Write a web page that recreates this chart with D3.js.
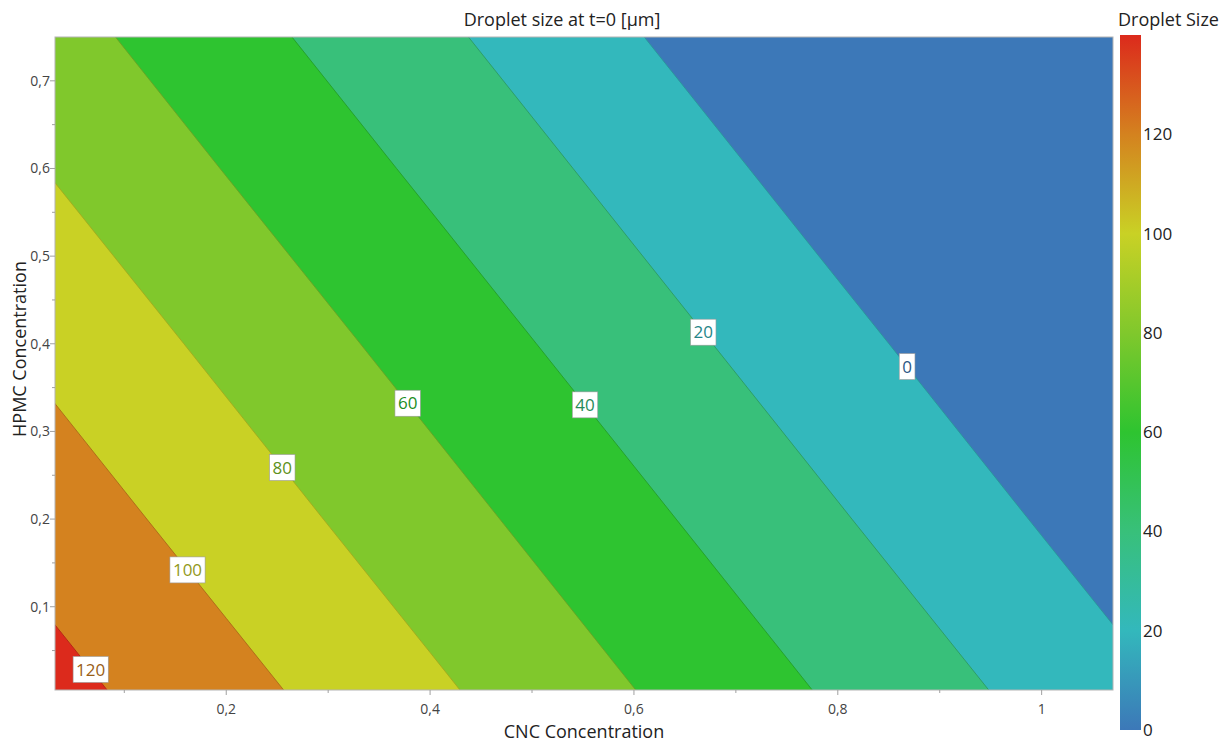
<!DOCTYPE html>
<html>
<head>
<meta charset="utf-8">
<script src="https://cdn.jsdelivr.net/npm/d3@7"></script>
<style>
body { margin: 0; background: #fff; }
text { font-family: 'Open Sans', 'Noto Sans', sans-serif; }
</style>
</head>
<body>
<div id="chart"></div>
<script>
//grid the surface was read on (CNC along x, HPMC along y)
var cncGrid = [0, 0.2, 0.4, 0.6, 0.8, 1.0, 1.2];
var hpmcGrid = [0, 0.2, 0.4, 0.6, 0.8];

//droplet size (µm) at each grid point, one row per HPMC value
var sizeAtHpmc00 = [130.0, 106.9, 83.8, 60.6, 37.5, 14.4, -8.7];
var sizeAtHpmc02 = [114.1, 91.0, 67.9, 44.8, 21.6, -1.5, -24.6];
var sizeAtHpmc04 = [98.3, 75.2, 52.1, 28.9, 5.8, -17.3, -40.4];
var sizeAtHpmc06 = [82.4, 59.3, 36.2, 13.1, -10.1, -33.2, -56.3];
var sizeAtHpmc08 = [66.6, 43.5, 20.4, -2.8, -25.9, -49.0, -72.1];

//contour levels and where along CNC each level label sits
var levels = [0, 20, 40, 60, 80, 100, 120];
var labelCnc = [0.868, 0.668, 0.552, 0.378, 0.255, 0.162, 0.067];

//colour bar
var colorStops = [0, 20, 40, 60, 80, 100, 120, 140];
var colorValues = ['#3c78b8', '#33b8bc', '#38c07a', '#2ec430', '#80c82c', '#c9d125', '#d4821f', '#dc2a1c'];
var barTicks = [0, 20, 40, 60, 80, 100, 120];

//axis ticks
var xTicks = [0.2, 0.4, 0.6, 0.8, 1];
var xMinor = [0.1, 0.3, 0.5, 0.7, 0.9];
var yTicks = [0.1, 0.2, 0.3, 0.4, 0.5, 0.6, 0.7];
var yMinor = [0.05, 0.15, 0.25, 0.35, 0.45, 0.55, 0.65];

var width = 1231, height = 742;
var plotLeft = 55, plotRight = 1113, plotTop = 37, plotBottom = 690;

var svg = d3.select('#chart').append('svg')
    .attr('width', width)
    .attr('height', height);

var x = d3.scaleLinear().domain([0.032, 1.07]).range([plotLeft, plotRight]);
var y = d3.scaleLinear().domain([0.005, 0.75]).range([plotBottom, plotTop]);

var color = d3.scaleLinear().domain(colorStops).range(colorValues);

var rows = [sizeAtHpmc00, sizeAtHpmc02, sizeAtHpmc04, sizeAtHpmc06, sizeAtHpmc08];
var nx = cncGrid.length, ny = hpmcGrid.length;
var values = [].concat.apply([], rows);
var cncStep = cncGrid[1] - cncGrid[0];
var hpmcStep = hpmcGrid[1] - hpmcGrid[0];

//bilinear lookup on the grid
function sizeAt(c, h) {
    var i = Math.min(nx - 2, Math.max(0, Math.floor((c - cncGrid[0]) / cncStep)));
    var j = Math.min(ny - 2, Math.max(0, Math.floor((h - hpmcGrid[0]) / hpmcStep)));
    var tx = (c - cncGrid[i]) / cncStep, ty = (h - hpmcGrid[j]) / hpmcStep;
    var a = rows[j][i], b = rows[j][i + 1], cc = rows[j + 1][i], d = rows[j + 1][i + 1];
    return a * (1 - tx) * (1 - ty) + b * tx * (1 - ty) + cc * (1 - tx) * ty + d * tx * ty;
}

//grid coords -> screen
var toScreen = d3.geoTransform({
    point: function(gx, gy) {
        this.stream.point(
            x(cncGrid[0] + (gx - 0.5) * cncStep),
            y(hpmcGrid[0] + (gy - 0.5) * hpmcStep));
    }
});
var path = d3.geoPath(toScreen);

var contours = d3.contours().size([nx, ny]).thresholds(levels)(values);

svg.append('clipPath').attr('id', 'plotClip')
    .append('rect')
    .attr('x', plotLeft).attr('y', plotTop)
    .attr('width', plotRight - plotLeft).attr('height', plotBottom - plotTop);

var plot = svg.append('g').attr('clip-path', 'url(#plotClip)');

//base band (below the lowest level)
plot.append('rect')
    .attr('x', plotLeft).attr('y', plotTop)
    .attr('width', plotRight - plotLeft).attr('height', plotBottom - plotTop)
    .attr('fill', color(0));

plot.selectAll('path.band')
    .data(contours)
    .enter()
    .append('path')
    .attr('class', 'band')
    .attr('d', path)
    .attr('fill', function(d) { return color(d.value + 20); })
    .attr('stroke', function(d) { return d3.color(color(d.value + 20)).darker(0.6); })
    .attr('stroke-width', 0.9);

//frame
svg.append('rect')
    .attr('x', plotLeft).attr('y', plotTop)
    .attr('width', plotRight - plotLeft).attr('height', plotBottom - plotTop)
    .attr('fill', 'none')
    .attr('stroke', '#b4b4b4')
    .attr('stroke-width', 1);

//x axis ticks
svg.selectAll('line.xMajor').data(xTicks).enter().append('line')
    .attr('x1', function(d) { return x(d); }).attr('x2', function(d) { return x(d); })
    .attr('y1', plotBottom).attr('y2', plotBottom + 5)
    .attr('stroke', '#a0a0a0');
svg.selectAll('line.xMinor').data(xMinor).enter().append('line')
    .attr('x1', function(d) { return x(d); }).attr('x2', function(d) { return x(d); })
    .attr('y1', plotBottom).attr('y2', plotBottom + 3)
    .attr('stroke', '#a0a0a0');

function fmt(v) { return String(+v.toFixed(2)).replace('.', ','); }

svg.selectAll('text.xTick').data(xTicks).enter().append('text')
    .attr('x', function(d) { return x(d); })
    .attr('y', 714)
    .attr('text-anchor', 'middle')
    .attr('font-size', 14)
    .attr('fill', '#444')
    .text(fmt);

//y axis ticks
svg.selectAll('line.yMajor').data(yTicks).enter().append('line')
    .attr('y1', function(d) { return y(d); }).attr('y2', function(d) { return y(d); })
    .attr('x1', plotLeft - 5).attr('x2', plotLeft)
    .attr('stroke', '#a0a0a0');
svg.selectAll('line.yMinor').data(yMinor).enter().append('line')
    .attr('y1', function(d) { return y(d); }).attr('y2', function(d) { return y(d); })
    .attr('x1', plotLeft - 3).attr('x2', plotLeft)
    .attr('stroke', '#a0a0a0');

svg.selectAll('text.yTick').data(yTicks).enter().append('text')
    .attr('x', 50)
    .attr('y', function(d) { return y(d); })
    .attr('dy', '0.35em')
    .attr('text-anchor', 'end')
    .attr('font-size', 14)
    .attr('fill', '#444')
    .text(fmt);

//contour labels
levels.forEach(function(level, k) {
    var c = labelCnc[k];
    //find HPMC where the surface crosses this level
    var lo = -0.5, hi = 1.5;
    for (var it = 0; it < 50; it++) {
        var mid = (lo + hi) / 2;
        if (sizeAt(c, mid) > level) lo = mid; else hi = mid;
    }
    var g = svg.append('g')
        .attr('transform', 'translate(' + x(c) + ',' + y((lo + hi) / 2) + ')');
    var t = g.append('text')
        .attr('text-anchor', 'middle')
        .attr('dy', '0.36em')
        .attr('font-size', 17)
        .attr('fill', d3.color(color(level)).darker(0.9))
        .text(level);
    var w = t.node().getComputedTextLength() + 6;
    g.insert('rect', 'text')
        .attr('x', -w / 2).attr('y', -13)
        .attr('width', w).attr('height', 26)
        .attr('fill', '#fff')
        .attr('stroke', '#9a9a9a')
        .attr('stroke-width', 0.6);
});

//titles
svg.append('text')
    .attr('x', 562).attr('y', 26)
    .attr('text-anchor', 'middle')
    .attr('font-size', 18)
    .attr('fill', '#222')
    .text('Droplet size at t=0 [µm]');

svg.append('text')
    .attr('x', 584).attr('y', 738)
    .attr('text-anchor', 'middle')
    .attr('font-size', 18)
    .attr('fill', '#222')
    .text('CNC Concentration');

svg.append('text')
    .attr('transform', 'translate(26,349)rotate(-90)')
    .attr('text-anchor', 'middle')
    .attr('font-size', 18)
    .attr('fill', '#222')
    .text('HPMC Concentration');

//colour bar
var barTop = 35, barBottom = 730, barX = 1120, barW = 21;
var barY = d3.scaleLinear().domain([0, 140]).range([barBottom, barTop]);

var grad = svg.append('defs').append('linearGradient')
    .attr('id', 'barGrad')
    .attr('x1', 0).attr('y1', 1).attr('x2', 0).attr('y2', 0);
grad.selectAll('stop').data(colorStops).enter().append('stop')
    .attr('offset', function(d) { return d / 140; })
    .attr('stop-color', function(d) { return color(d); });

svg.append('rect')
    .attr('x', barX).attr('y', barTop)
    .attr('width', barW).attr('height', barBottom - barTop)
    .attr('fill', 'url(#barGrad)');

svg.selectAll('text.barTick').data(barTicks).enter().append('text')
    .attr('x', barX + barW + 2)
    .attr('y', function(d) { return barY(d); })
    .attr('dy', '0.35em')
    .attr('font-size', 17)
    .attr('fill', '#222')
    .text(function(d) { return d; });

svg.append('text')
    .attr('x', 1118).attr('y', 26)
    .attr('font-size', 18)
    .attr('fill', '#222')
    .text('Droplet Size');
</script>
</body>
</html>
